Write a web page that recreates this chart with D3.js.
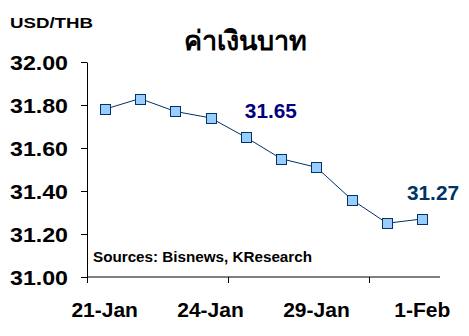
<!DOCTYPE html>
<html>
<head>
<meta charset="utf-8">
<script src="https://cdn.jsdelivr.net/npm/d3@7"></script>
<style>
  body { margin: 0; background: #fff; }
  svg { display: block; font-family: "Liberation Sans", Arial, sans-serif; }
</style>
</head>
<body>
<svg width="469" height="336"></svg>
<script>
// data
var dates = ["21-Jan", "22-Jan", "23-Jan", "24-Jan", "25-Jan", "28-Jan", "29-Jan", "30-Jan", "31-Jan", "1-Feb"];
var rates = [31.78, 31.83, 31.77, 31.74, 31.65, 31.55, 31.51, 31.36, 31.25, 31.27];
var yTicks = [31.0, 31.2, 31.4, 31.6, 31.8, 32.0];
var xLabels = ["21-Jan", "24-Jan", "29-Jan", "1-Feb"];
var xTickMarks = ["21-Jan", "25-Jan", "31-Jan"];   // tick marks sit on category edges
var callouts = [{date: "25-Jan", text: "31.65", color: "#000080"},
                {date: "1-Feb", text: "31.27", color: "#003366"}];

var svg = d3.select("svg");

var x = d3.scaleBand().domain(dates).range([87, 440]).padding(0);
var y = d3.scaleLinear().domain([31, 32]).range([277, 62]);
var cx = function(d) { return x(d) + x.bandwidth() / 2; };

// y axis
var yAxis = svg.append("g")
  .attr("transform", "translate(87,0)")
  .call(d3.axisLeft(y).tickValues(yTicks).tickFormat(d3.format(".2f"))
    .tickSize(6).tickSizeOuter(0).tickPadding(13));
yAxis.select(".domain").attr("stroke", "#000");
yAxis.selectAll("line").attr("stroke", "#000");
yAxis.selectAll("text")
  .attr("fill", "#000")
  .style("font-size", "21px")
  .style("font-weight", "bold")
  .attr("textLength", 58)
  .attr("lengthAdjust", "spacingAndGlyphs")
  .attr("dy", "0.36em");

// x axis line + tick marks
var xg = svg.append("g");
xg.append("line")
  .attr("x1", 87).attr("x2", 440)
  .attr("y1", y(31)).attr("y2", y(31))
  .attr("stroke", "#000");
xg.selectAll(".xtick")
  .data(xTickMarks)
  .enter().append("line")
  .attr("class", "xtick")
  .attr("x1", function(d) { return Math.round(x(d)) + 0.5; })
  .attr("x2", function(d) { return Math.round(x(d)) + 0.5; })
  .attr("y1", y(31)).attr("y2", y(31) + 6)
  .attr("stroke", "#000");
xg.selectAll(".xlabel")
  .data(xLabels)
  .enter().append("text")
  .attr("class", "xlabel")
  .attr("x", cx)
  .attr("y", 317)
  .attr("text-anchor", "middle")
  .style("font-size", "21px")
  .style("font-weight", "bold")
  .text(function(d) { return d; });

// line + markers
var line = d3.line()
  .x(function(d, i) { return cx(dates[i]); })
  .y(function(d) { return y(d); });

svg.append("path")
  .datum(rates)
  .attr("d", line)
  .attr("fill", "none")
  .attr("stroke", "#003366")
  .attr("stroke-width", 1);

svg.selectAll(".pt")
  .data(rates)
  .enter().append("rect")
  .attr("class", "pt")
  .attr("x", function(d, i) { return Math.round(cx(dates[i]) - 5) + 0.5; })
  .attr("y", function(d) { return Math.round(y(d) - 5) + 0.5; })
  .attr("width", 10).attr("height", 10)
  .attr("fill", "#99ccff")
  .attr("stroke", "#003366")
  .attr("stroke-width", 1);

// value callouts (kept inside the right edge)
var labelW = 52;
svg.selectAll(".callout")
  .data(callouts)
  .enter().append("text")
  .attr("class", "callout")
  .attr("x", function(d) { return Math.min(cx(d.date) - 1, 459 - labelW); })
  .attr("y", function(d) { return y(rates[dates.indexOf(d.date)]) - 19; })
  .style("font-size", "20px")
  .style("font-weight", "bold")
  .attr("fill", function(d) { return d.color; })
  .attr("textLength", labelW)
  .attr("lengthAdjust", "spacingAndGlyphs")
  .text(function(d) { return d.text; });

// titles
svg.append("text")
  .attr("x", 10).attr("y", 28)
  .style("font-size", "15px").style("font-weight", "bold")
  .attr("textLength", 83).attr("lengthAdjust", "spacingAndGlyphs")
  .text("USD/THB");

svg.append("text")
  .attr("x", 245).attr("y", 50)
  .attr("text-anchor", "middle")
  .style("font-size", "27px").style("font-weight", "bold")
  .text("ค่าเงินบาท");

svg.append("text")
  .attr("x", 93).attr("y", 262)
  .style("font-size", "14px").style("font-weight", "bold")
  .attr("textLength", 219).attr("lengthAdjust", "spacingAndGlyphs")
  .text("Sources: Bisnews, KResearch");
</script>
</body>
</html>
